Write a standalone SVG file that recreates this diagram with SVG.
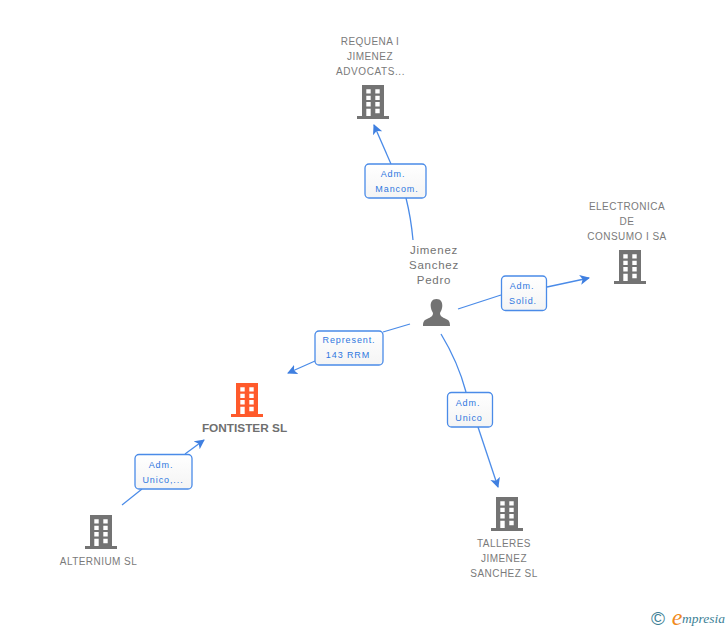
<svg xmlns="http://www.w3.org/2000/svg" width="728" height="630" viewBox="0 0 728 630">
<style>
text{font-family:"Liberation Sans",Arial,sans-serif;text-anchor:middle}
.n{font-size:10px;fill:#7a7a7a;letter-spacing:.45px}
.p{font-size:11.5px;fill:#737373;letter-spacing:.75px}
.l{font-size:9px;fill:#2f77e0;letter-spacing:.9px}
.c{fill:none;stroke:#4a8be8;stroke-width:1.3}
.b{fill:url(#g);stroke:#4a8be8;stroke-width:1.3}
.s{font-family:"Liberation Serif",serif;font-style:italic}
</style>
<defs>
<linearGradient id="g" x1="0" y1="0" x2="0" y2="1"><stop offset="0" stop-color="#ffffff"/><stop offset="1" stop-color="#f4f4f4"/></linearGradient>
<marker id="a" markerWidth="12" markerHeight="12" refX="9" refY="5" orient="auto" markerUnits="userSpaceOnUse"><path d="M0 0L10 5L0 10L2.500 5Z" fill="#3f7fe0"/></marker>
<symbol id="bld" viewBox="0 0 32 34" width="32" height="34" overflow="visible">
<path fill-rule="evenodd" d="M5 0H27V31H32V34H0V31H5ZM9.300 4.300V8.500H13.700V4.300ZM18.300 4.300V8.500H22.700V4.300ZM9.300 10.700V15H13.700V10.700ZM18.300 10.700V15H22.700V10.700ZM9.300 17V21.500H13.700V17ZM18.300 17V21.500H22.700V17ZM9.300 23.700V31H13.700V23.700ZM18.300 23.700V28.300H22.700V23.700Z"/>
</symbol>
</defs>
<g id="connectors">
<path class="c" d="M413 240Q411 218 406 198"/>
<path class="c" marker-end="url(#a)" d="M391 164L374 125"/>
<path class="c" d="M458 309L501 295"/>
<path class="c" marker-end="url(#a)" d="M547 287L589 278"/>
<path class="c" d="M410 324L383 332"/>
<path class="c" marker-end="url(#a)" d="M315 361L288 373"/>
<path class="c" d="M441 334Q458 362 466 392"/>
<path class="c" marker-end="url(#a)" d="M478 427L498 487"/>
<path class="c" d="M122 505L142 489"/>
<path class="c" marker-end="url(#a)" d="M185 454L204 440"/>
</g>
<g id="label-mancom"><rect class="b" x="365" y="164" width="61" height="34" rx="4"/><text class="l" x="393" y="177">Adm.</text><text class="l" x="397" y="192">Mancom.</text></g>
<g id="label-solid"><rect class="b" x="501.500" y="276" width="45" height="34.500" rx="4"/><text class="l" x="522" y="289">Adm.</text><text class="l" x="523" y="304">Solid.</text></g>
<g id="label-represent"><rect class="b" x="315" y="331" width="68" height="34" rx="4"/><text class="l" x="349" y="343">Represent.</text><text class="l" x="348" y="358">143 RRM</text></g>
<g id="label-unico"><rect class="b" x="447.500" y="392.500" width="45" height="34.500" rx="4"/><text class="l" x="468" y="406">Adm.</text><text class="l" x="469" y="421">Unico</text></g>
<g id="label-unico2"><rect class="b" x="135" y="454.500" width="57" height="34.500" rx="4"/><text class="l" x="161" y="468">Adm.</text><text class="l" x="163" y="483">Unico,...</text></g>
<g id="node-requena"><use href="#bld" x="357" y="85" fill="#737373"/><text class="n" x="370" y="45">REQUENA I</text><text class="n" x="370" y="60">JIMENEZ</text><text class="n" x="370.500" y="75" style="letter-spacing:.6px">ADVOCATS...</text></g>
<g id="node-electronica"><use href="#bld" x="614" y="250" fill="#737373"/><text class="n" x="627" y="210">ELECTRONICA</text><text class="n" x="627" y="225">DE</text><text class="n" x="627" y="240">CONSUMO I SA</text></g>
<g id="node-pedro"><text class="p" x="434" y="254">Jimenez</text><text class="p" x="434" y="269">Sanchez</text><text class="p" x="434" y="284">Pedro</text>
<path fill="#737373" d="M436.500 299C432 299 430.500 302.500 430.700 306C430.800 309 432 311 433 313C433 316 431 317 427 319C424 320 423 322 423 326H450C450 322 449 320 446 319C442 317 440 316 440 313C441 311 442.200 309 442.300 306C442.500 302.500 441 299 436.500 299Z"/></g>
<g id="node-fontister"><use href="#bld" x="231" y="383" fill="#ff5a2b"/><text x="244.500" y="432" font-size="11.800px" font-weight="700" fill="#6f6f6f">FONTISTER SL</text></g>
<g id="node-alternium"><use href="#bld" x="85" y="515" fill="#737373"/><text class="n" x="98.500" y="565">ALTERNIUM SL</text></g>
<g id="node-talleres"><use href="#bld" x="491" y="497" fill="#737373"/><text class="n" x="504" y="547">TALLERES</text><text class="n" x="504" y="562">JIMENEZ</text><text class="n" x="504" y="577">SANCHEZ SL</text></g>
<g id="logo"><text x="658" y="625" font-size="19px" fill="#3d7f96">©</text><text class="s" x="677" y="625" font-size="24px" fill="#f08a1d">e</text><text class="s" x="703.500" y="623" font-size="13.500px" fill="#3d7f96">mpresia</text></g>
</svg>
